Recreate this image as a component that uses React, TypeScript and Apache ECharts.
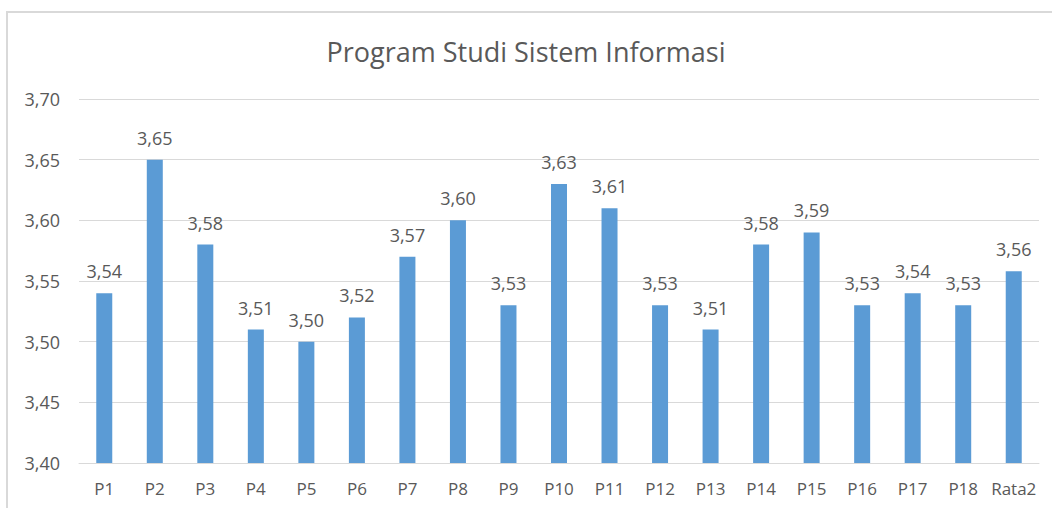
import React, { useEffect, useRef } from "react";
import * as echarts from "echarts";

const categories = ["P1","P2","P3","P4","P5","P6","P7","P8","P9","P10","P11","P12","P13","P14","P15","P16","P17","P18","Rata2"];
const values = [3.54,3.65,3.58,3.51,3.50,3.52,3.57,3.60,3.53,3.63,3.61,3.53,3.51,3.58,3.59,3.53,3.54,3.53,3.558];
const yTicks = { min: 3.4, max: 3.7, interval: 0.05 };
const titleText = "Program Studi Sistem Informasi";

const fmt = (v: number) => v.toFixed(2).replace(".", ",");

export default function App() {
  const ref = useRef<HTMLDivElement>(null);
  useEffect(() => {
    if (!ref.current) return;
    const chart = echarts.init(ref.current, null, { renderer: "svg" });
    const font = "'Open Sans', 'Noto Sans', sans-serif";
    chart.setOption({
      animation: false,
      backgroundColor: "#ffffff",
      textStyle: { fontFamily: font },
      title: {
        text: titleText,
        left: "center",
        top: 33,
        textStyle: { fontSize: 27, fontWeight: "normal", color: "#595959", fontFamily: font },
      },
      graphic: [
        {
          type: "rect",
          shape: { x: 7, y: 12, width: 1100, height: 600 },
          style: { fill: "none", stroke: "#d9d9d9", lineWidth: 2 },
          silent: true,
        },
      ],
      grid: { left: 79, right: 13, top: 99, bottom: 45 },
      xAxis: {
        type: "category",
        data: categories,
        axisLine: { show: true, lineStyle: { color: "#d9d9d9", width: 1 } },
        axisTick: { show: false },
        axisLabel: { color: "#595959", fontSize: 17, margin: 17, interval: 0, fontFamily: font },
      },
      yAxis: {
        type: "value",
        min: yTicks.min,
        max: yTicks.max,
        interval: yTicks.interval,
        axisLine: { show: false },
        axisTick: { show: false },
        splitLine: { lineStyle: { color: "#d9d9d9", width: 1 } },
        axisLabel: { color: "#595959", fontSize: 18, margin: 19, formatter: (v: number) => fmt(v), fontFamily: font },
      },
      series: [
        {
          type: "bar",
          data: values,
          barWidth: 16,
          itemStyle: { color: "#5b9bd5" },
          label: {
            show: true,
            position: "top",
            distance: 13,
            color: "#595959",
            fontSize: 18,
            fontFamily: font,
            formatter: (p: any) => fmt(p.value),
          },
        },
      ],
    });
    return () => chart.dispose();
  }, []);
  return <div ref={ref} style={{ position: "fixed", left: 0, top: 0, width: 1052, height: 508 }} />;
}
